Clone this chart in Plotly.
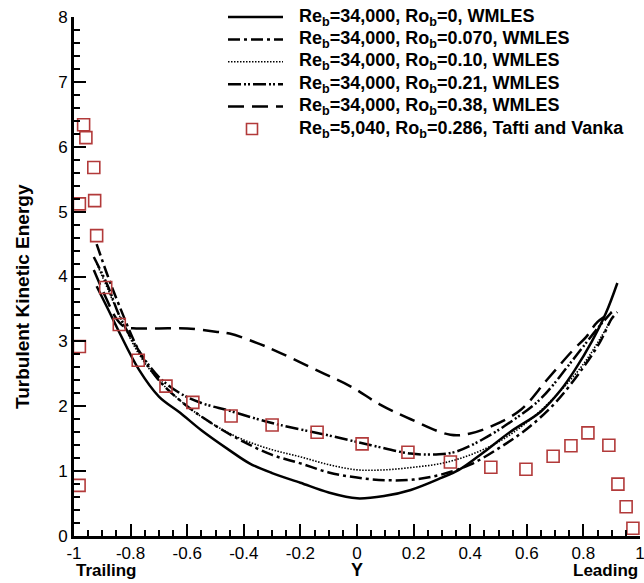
import plotly.graph_objects as go

# ---------------- data ----------------
y_ro0 = [-0.92, -0.88, -0.84, -0.77, -0.70, -0.625, -0.55, -0.45, -0.38, -0.30, -0.20, -0.10, 0.0,
         0.10, 0.19, 0.30, 0.36, 0.45, 0.54, 0.65, 0.72, 0.77, 0.83, 0.88, 0.92]
k_ro0 = [3.85, 3.50, 3.14, 2.56, 2.15, 1.90, 1.63, 1.32, 1.12, 0.97, 0.82, 0.67, 0.58,
         0.62, 0.71, 0.90, 1.02, 1.30, 1.60, 1.92, 2.25, 2.56, 3.00, 3.44, 3.90]

y_ro070 = [-0.92, -0.88, -0.84, -0.77, -0.70, -0.60, -0.50, -0.40, -0.30, -0.20, -0.10, 0.0,
           0.10, 0.20, 0.30, 0.40, 0.50, 0.60, 0.70, 0.80, 0.86, 0.90, 0.92]
k_ro070 = [4.50, 4.00, 3.55, 2.85, 2.40, 2.00, 1.70, 1.45, 1.25, 1.12, 0.98, 0.90,
           0.86, 0.87, 0.95, 1.10, 1.35, 1.65, 2.05, 2.60, 3.00, 3.35, 3.45]

y_ro010 = [-0.92, -0.88, -0.84, -0.77, -0.70, -0.60, -0.50, -0.40, -0.30, -0.20, -0.10, 0.0,
           0.10, 0.20, 0.30, 0.40, 0.50, 0.60, 0.70, 0.80, 0.86, 0.90]
k_ro010 = [4.20, 3.80, 3.40, 2.80, 2.40, 2.00, 1.70, 1.48, 1.33, 1.22, 1.10, 1.02,
           1.02, 1.06, 1.12, 1.25, 1.45, 1.75, 2.15, 2.65, 3.05, 3.35]

y_ro021 = [-0.93, -0.88, -0.84, -0.77, -0.70, -0.625, -0.55, -0.45, -0.35, -0.27, -0.10, 0.05,
           0.19, 0.29, 0.35, 0.44, 0.55, 0.65, 0.76, 0.85, 0.90]
k_ro021 = [4.30, 3.85, 3.40, 2.85, 2.45, 2.20, 2.05, 1.93, 1.80, 1.71, 1.55, 1.40,
           1.27, 1.26, 1.30, 1.48, 1.78, 2.12, 2.70, 3.20, 3.45]

y_ro038 = [-0.93, -0.89, -0.85, -0.82, -0.78, -0.70, -0.60, -0.50, -0.45, -0.35, -0.27, -0.13,
           -0.02, 0.08, 0.19, 0.33, 0.40, 0.48, 0.58, 0.67, 0.76, 0.81, 0.85, 0.90]
k_ro038 = [4.10, 3.70, 3.35, 3.22, 3.20, 3.20, 3.20, 3.15, 3.12, 2.97, 2.82, 2.53,
           2.30, 2.03, 1.80, 1.56, 1.58, 1.70, 1.95, 2.40, 2.85, 3.07, 3.30, 3.45]

y_tafti = [-0.966, -0.958, -0.930, -0.927, -0.981, -0.920, -0.888, -0.840, -0.981, -0.773,
           -0.675, -0.580, -0.445, -0.300, -0.141, 0.018, 0.180, 0.330, 0.473, 0.597,
           0.693, 0.756, 0.816, 0.890, 0.922, 0.951, 0.975, -0.982]
k_tafti = [6.34, 6.14, 5.68, 5.17, 5.12, 4.63, 3.83, 3.26, 2.92, 2.71,
           2.31, 2.06, 1.85, 1.71, 1.60, 1.42, 1.29, 1.14, 1.06, 1.03,
           1.23, 1.39, 1.59, 1.40, 0.80, 0.45, 0.12, 0.78]

names = [
    "<b>Re<sub>b</sub>=34,000, Ro<sub>b</sub>=0, WMLES</b>",
    "<b>Re<sub>b</sub>=34,000, Ro<sub>b</sub>=0.070, WMLES</b>",
    "<b>Re<sub>b</sub>=34,000, Ro<sub>b</sub>=0.10, WMLES</b>",
    "<b>Re<sub>b</sub>=34,000, Ro<sub>b</sub>=0.21, WMLES</b>",
    "<b>Re<sub>b</sub>=34,000, Ro<sub>b</sub>=0.38, WMLES</b>",
    "<b>Re<sub>b</sub>=5,040, Ro<sub>b</sub>=0.286, Tafti and Vanka</b>",
]

x_ticks = [-1, -0.8, -0.6, -0.4, -0.2, 0, 0.2, 0.4, 0.6, 0.8, 1]
x_tick_text = ["-1", "-0.8", "-0.6", "-0.4", "-0.2", "0", "0.2", "0.4", "0.6", "0.8", "1"]
y_ticks = [0, 1, 2, 3, 4, 5, 6, 7, 8]

# ---------------- style / layout constants ----------------
FONT = "Liberation Sans, Arial, sans-serif"
W, H = 644, 583
ML, MR, MT, MB = 74, 4, 17, 47
PW, PH = W - ML - MR, H - MT - MB
SQ_COLOR = "#b23a3a"

def px_x(p):
    return (p - ML) / PW

def px_y(p):
    return (H - MB - p) / PH

styles = [
    dict(dash="solid", width=2.5),
    dict(dash="12px,4px,3px,4px", width=2.5),
    dict(dash="1.5px,1.5px", width=1.6),
    dict(dash="13px,3px,2px,2px,2px,3px", width=2.5),
    dict(dash="16px,8px", width=2.5),
]

fig = go.Figure()
for xs, ys, st, nm in zip([y_ro0, y_ro070, y_ro010, y_ro021, y_ro038],
                          [k_ro0, k_ro070, k_ro010, k_ro021, k_ro038], styles, names[:5]):
    fig.add_trace(go.Scatter(x=xs, y=ys, mode="lines", name=nm, showlegend=False,
                             line=dict(color="black", width=st["width"], dash=st["dash"],
                                       shape="spline", smoothing=1.0)))

fig.add_trace(go.Scatter(x=y_tafti, y=k_tafti, mode="markers", name=names[5], showlegend=False,
                         marker=dict(symbol="square-open", size=12, color=SQ_COLOR,
                                     line=dict(width=1.6, color=SQ_COLOR))))

# ---------------- legend (drawn in paper space) ----------------
LEG_X0, LEG_X1, LEG_TXT = 228, 283, 297
LEG_Y0, LEG_DY = 17, 22.4
shapes = []
annotations = []
for i, nm in enumerate(names):
    yc = LEG_Y0 + i * LEG_DY
    if i < 5:
        st = styles[i]
        shapes.append(dict(type="line", xref="paper", yref="paper",
                           x0=px_x(LEG_X0), x1=px_x(LEG_X1), y0=px_y(yc), y1=px_y(yc),
                           line=dict(color="black", width=st["width"], dash=st["dash"])))
    else:
        xc = 252
        shapes.append(dict(type="rect", xref="paper", yref="paper",
                           x0=px_x(xc - 5.5), x1=px_x(xc + 5.5), y0=px_y(yc - 5.5), y1=px_y(yc + 5.5),
                           line=dict(color=SQ_COLOR, width=1.6), fillcolor="rgba(0,0,0,0)"))
    annotations.append(dict(text=nm, xref="paper", yref="paper", x=px_x(LEG_TXT), y=px_y(yc),
                            xanchor="left", yanchor="middle", showarrow=False,
                            font=dict(family=FONT, size=18, color="black")))

# axis titles / side labels
annotations += [
    dict(text="<b>Turbulent Kinetic Energy</b>", xref="paper", yref="paper",
         x=px_x(22), y=px_y(297), textangle=-90, xanchor="center", yanchor="middle",
         showarrow=False, font=dict(family=FONT, size=19, color="black")),
    dict(text="<b>Y</b>", xref="paper", yref="paper", x=0.5, y=0, yshift=-34,
         xanchor="center", yanchor="middle", showarrow=False, font=dict(family=FONT, size=18)),
    dict(text="<b>Trailing</b>", xref="paper", yref="paper", x=0, y=0, yshift=-34,
         xanchor="left", yanchor="middle", showarrow=False, font=dict(family=FONT, size=17)),
    dict(text="<b>Leading</b>", xref="paper", yref="paper", x=1, y=0, yshift=-34,
         xanchor="right", yanchor="middle", showarrow=False, font=dict(family=FONT, size=17)),
]

fig.update_layout(
    width=W, height=H,
    margin=dict(l=ML, r=MR, t=MT, b=MB, autoexpand=False),
    paper_bgcolor="white", plot_bgcolor="white",
    font=dict(family=FONT, size=17, color="black"),
    showlegend=False,
    shapes=shapes,
    annotations=annotations,
    xaxis=dict(range=[-1, 1], tickvals=x_ticks, ticktext=x_tick_text, automargin=False,
               ticks="inside", ticklen=12, tickwidth=2, tickcolor="black",
               ticklabeloverflow="allow", ticklabelstandoff=0,
               showline=True, linewidth=3, linecolor="black", mirror=False,
               showgrid=False, zeroline=False,
               minor=dict(ticks="inside", ticklen=6, tickwidth=1.5, tickcolor="black", dtick=0.05, showgrid=False),
               tickfont=dict(family=FONT, size=17)),
    yaxis=dict(range=[0, 8], tickvals=y_ticks, automargin=False,
               ticks="inside", ticklen=12, tickwidth=2, tickcolor="black",
               ticklabeloverflow="allow",
               showline=True, linewidth=3, linecolor="black", mirror=False,
               showgrid=False, zeroline=False,
               minor=dict(ticks="inside", ticklen=6, tickwidth=1.5, tickcolor="black", dtick=0.2, showgrid=False),
               tickfont=dict(family=FONT, size=17)),
)

fig.write_html("out.html",
               config={"displayModeBar": False},
               post_script="document.body.style.margin='0';document.body.style.overflow='hidden';")
